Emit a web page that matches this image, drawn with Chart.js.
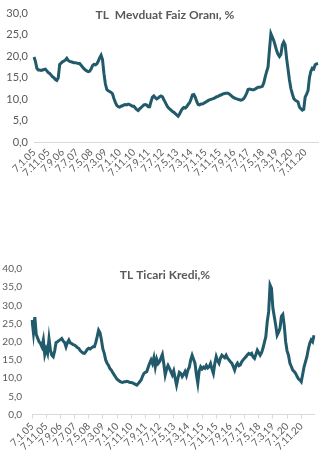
<!DOCTYPE html>
<html lang="tr">
<head>
  <meta charset="UTF-8">
  <title>TL Mevduat / Ticari Kredi</title>
  <style>
    body { margin: 0; background: #fff; width: 322px; height: 464px; position: relative; overflow: hidden; }
    .box { position: absolute; left: 0; width: 322px; }
    #box1 { top: 0; height: 200px; }
    #box2 { top: 250px; height: 214px; }
  </style>
</head>
<body>
  <div class="box" id="box1"><canvas id="depositChart" width="322" height="200"></canvas></div>
  <div class="box" id="box2"><canvas id="loanChart" width="322" height="214"></canvas></div>

  <script src="https://cdn.jsdelivr.net/npm/chart.js"></script>
  <script>
    // aylık veri, Ocak 2005'ten başlayarak (ayın 7'si)
    const startYear = 2005;
    const tickStep = 10; // her 10 ayda bir etiket

    const depositRate = [
      19.8, 18.8, 17.2, 16.8, 16.8, 16.7, 16.8, 16.9, 17.0, 16.6,
      16.2, 16.0, 15.6, 15.2, 15.0, 14.6, 14.4, 15.0, 18.1, 18.4,
      18.7, 18.9, 19.1, 19.5, 19.0, 18.8, 18.7, 18.6, 18.5, 18.5,
      18.4, 18.3, 18.3, 17.9, 17.5, 17.1, 16.8, 16.6, 16.4, 16.5,
      17.0, 17.8, 18.1, 18.0, 18.2, 18.8, 19.6, 20.2, 19.2, 16.0,
      13.6, 12.3, 12.0, 11.8, 11.6, 11.3, 10.2, 9.3, 8.6, 8.3,
      8.2, 8.4, 8.5, 8.7, 8.8, 8.7, 8.9, 8.8, 8.6, 8.4,
      8.4, 8.0, 7.6, 7.4, 7.8, 8.1, 8.4, 8.7, 8.8, 8.7,
      8.3, 8.3, 9.5, 10.5, 10.8, 10.4, 10.1, 10.3, 10.6, 10.8,
      10.6, 9.9, 9.3, 8.6, 8.1, 7.8, 7.5, 7.2, 7.0, 6.7,
      6.4, 6.1, 6.6, 7.3, 7.8, 8.1, 8.0, 8.3, 8.8, 9.2,
      10.0, 11.0, 11.1, 10.5, 9.5, 8.8, 8.7, 8.9, 8.9, 9.1,
      9.3, 9.5, 9.7, 9.9, 10.0, 10.1, 10.2, 10.4, 10.6, 10.7,
      10.9, 11.0, 11.2, 11.3, 11.4, 11.4, 11.4, 11.2, 10.9, 10.6,
      10.4, 10.2, 10.1, 10.0, 9.9, 9.8, 9.9, 10.2, 10.7, 11.4,
      12.3, 12.4, 12.3, 12.2, 12.2, 12.4, 12.6, 12.8, 12.8, 12.9,
      13.0, 13.8, 15.2, 16.4, 17.5, 21.5, 25.2, 24.4, 23.6, 22.5,
      21.3, 20.4, 19.9, 20.4, 22.6, 23.3, 22.6, 19.5, 17.0, 14.5,
      12.5, 11.3, 10.2, 9.8, 9.6, 9.4, 8.2, 7.8, 7.5, 7.7,
      10.5, 11.2, 12.0, 15.0, 16.5, 17.2, 17.0, 18.0, 18.2, 18.3
    ];

    const loanRate = [
      26.0, 22.5, 26.8, 22.0, 21.0, 20.0, 19.5, 18.6, 20.5, 16.5,
      18.0, 16.8, 20.8, 17.7, 16.3, 15.9, 17.5, 19.8, 20.0, 20.3,
      20.6, 20.9, 20.2, 19.8, 18.6, 19.8, 20.5, 19.7, 19.5, 19.2,
      19.1, 18.8, 18.4, 18.2, 17.6, 17.2, 16.9, 16.8, 17.3, 17.9,
      18.2, 18.0, 18.3, 18.6, 18.6, 19.8, 21.4, 23.2, 22.5, 20.5,
      18.0, 16.8, 15.0, 14.1, 13.5, 12.6, 12.2, 11.5, 10.9, 10.3,
      9.7, 9.4, 9.1, 8.9, 8.8, 9.0, 9.0, 9.1, 9.0, 8.8,
      8.8, 8.7, 8.5, 8.3, 8.1, 8.5, 9.0, 9.5, 10.5, 11.3,
      11.6, 11.8, 13.0, 14.1, 15.0, 14.0, 15.6, 13.1, 15.2, 14.0,
      14.5, 15.5, 16.5, 14.0, 10.9, 12.5, 13.5, 12.7, 11.8, 10.9,
      12.0, 10.0, 8.1, 10.0, 11.6, 11.3, 10.4, 11.0, 11.8, 10.7,
      12.2, 13.0, 15.0, 16.3, 15.2, 14.1, 11.0, 8.6, 12.0, 13.1,
      12.5, 13.0, 12.7, 13.5, 12.8, 13.1, 14.0, 12.5, 11.3, 14.0,
      15.9, 14.8, 14.1, 15.5, 16.3, 15.9, 15.6, 16.3, 15.5, 15.0,
      14.5, 14.1, 13.2, 12.2, 13.5, 14.1, 13.4, 13.6, 14.5, 15.0,
      15.5, 15.9, 16.4, 16.8, 16.5, 16.8, 15.8, 15.4, 16.5, 17.7,
      17.0, 16.3, 17.0, 18.2, 19.8, 21.4, 25.5, 28.2, 35.6, 34.7,
      29.2, 26.9, 24.5, 21.8, 22.6, 23.7, 27.0, 27.5, 24.5, 20.0,
      17.5, 16.3, 14.1, 13.2, 12.2, 11.8, 11.3, 10.5, 9.8, 9.5,
      9.0, 11.0, 13.1, 14.5, 15.9, 18.0, 19.6, 20.5, 20.0, 21.8
    ];

    // kategori etiketleri: 7.1.05, 7.2.05, ...
    const months = [];
    for (let i = 0; i < depositRate.length; i++) {
      const yy = (startYear + Math.floor(i / 12)) % 100;
      months.push('7.' + (i % 12 + 1) + '.' + String(yy).padStart(2, '0'));
    }

    const lineColor = '#215a6a';
    const textColor = '#595959';
    const axisColor = '#d9d9d9';
    const fontFamily = 'Lato, "Open Sans", sans-serif';

    // başlığı grafik alanının üstüne bindiren eklenti
    const overlayTitle = {
      id: 'overlayTitle',
      afterDraw(chart) {
        const opt = chart.options.plugins.overlayTitle;
        if (!opt || !opt.text) return;
        const { ctx } = chart;
        ctx.save();
        ctx.font = 'bold 12px ' + fontFamily;
        ctx.fillStyle = textColor;
        ctx.textAlign = 'center';
        ctx.textBaseline = 'middle';
        ctx.fillText(opt.text, opt.x, opt.y);
        ctx.restore();
      }
    };
    Chart.register(overlayTitle);

    function makeChart(id, cfg) {
      const canvas = document.getElementById(id);
      return new Chart(canvas.getContext('2d'), {
        type: 'line',
        data: {
          labels: months,
          datasets: [{
            data: cfg.values,
            borderColor: lineColor,
            borderWidth: cfg.lineWidth,
            pointRadius: 0,
            tension: 0,
            fill: false
          }]
        },
        options: {
          responsive: false,
          animation: false,
          layout: { padding: { top: cfg.padTop, right: cfg.padRight, left: 0, bottom: 0 } },
          plugins: {
            legend: { display: false },
            tooltip: { enabled: false },
            overlayTitle: { text: cfg.title, x: 165, y: cfg.titleY }
          },
          scales: {
            x: {
              ticks: {
                autoSkip: false,
                minRotation: 45,
                maxRotation: 45,
                padding: cfg.xPad,
                color: textColor,
                font: { family: fontFamily, size: 10 },
                callback(value) { return this.getLabelForValue(value); }
              },
              afterBuildTicks(scale) {
                scale.ticks = scale.ticks.filter(t => t.value % tickStep === 0);
              },
              afterFit(scale) { scale.height = cfg.xHeight; },
              grid: {
                drawOnChartArea: false,
                drawTicks: cfg.xTicks,
                tickLength: 4,
                color: axisColor
              },
              border: { display: true, color: axisColor, width: 1 }
            },
            y: {
              min: 0,
              max: cfg.yMax,
              ticks: {
                stepSize: 5,
                padding: cfg.yPad,
                color: textColor,
                font: { family: fontFamily, size: cfg.yFont },
                callback: v => v.toFixed(1).replace('.', ',')
              },
              afterFit(scale) { scale.width = cfg.yWidth; },
              grid: { display: false, drawTicks: false },
              border: { display: false }
            }
          }
        }
      });
    }

    makeChart('depositChart', {
      values: depositRate,
      title: 'TL  Mevduat Faiz Oranı, %',
      titleY: 15,
      yMax: 30,
      lineWidth: 3,
      padTop: 13,
      padRight: 4,
      yWidth: 34,
      yPad: 6,
      yFont: 11,
      xHeight: 57.5,
      xPad: 4,
      xTicks: false
    });

    makeChart('loanChart', {
      values: loanRate,
      title: 'TL Ticari Kredi,%',
      titleY: 25,
      yMax: 40,
      lineWidth: 3,
      padTop: 19,
      padRight: 8,
      yWidth: 32,
      yPad: 10,
      yFont: 10,
      xHeight: 49.5,
      xPad: 2,
      xTicks: true
    });
  </script>
</body>
</html>
